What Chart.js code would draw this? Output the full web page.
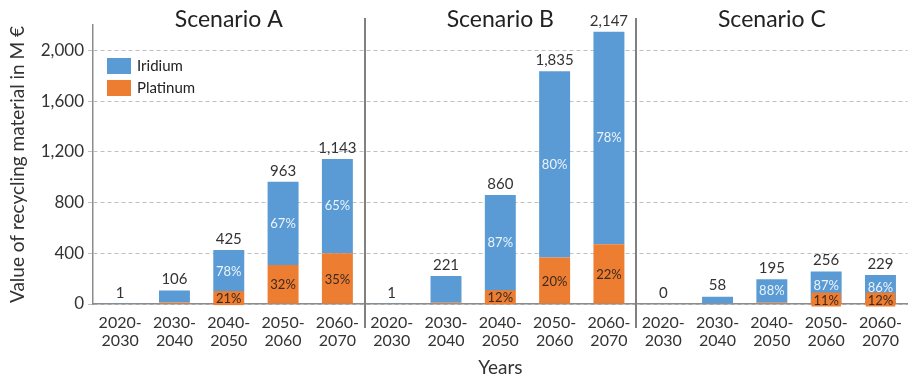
<!DOCTYPE html>
<html>
<head>
<meta charset="utf-8">
<script src="https://cdn.jsdelivr.net/npm/chart.js@4"></script>
<style>
  html, body { margin: 0; padding: 0; background: #fff; }
  canvas { display: block; }
</style>
</head>
<body>
<canvas id="recyclingChart" width="912" height="382"></canvas>
<script>
// periods per scenario
const periods = [["2020-", "2030"], ["2030-", "2040"], ["2040-", "2050"], ["2050-", "2060"], ["2060-", "2070"]];
const scenarios = ["Scenario A", "Scenario B", "Scenario C"];

// values in M € (A, B, C)
const iridium  = [1, 94, 336, 655, 743,   1, 211, 757, 1468, 1675,   0, 56, 185, 228, 202];
const platinum = [0, 12,  89, 308, 400,   0,  10, 103,  367,  472,   0,  2,  10,  28,  27];

// shares written in the bars (%)
const iridiumShare  = [null, null, 78, 67, 65,   null, null, 87, 80, 78,   null, null, 88, 87, 86];
const platinumShare = [null, null, 21, 32, 35,   null, null, 12, 20, 22,   null, null, null, 11, 12];

const yTicks = { min: 0, max: 2200, step: 400 };

const FONT = 'Lato, "Liberation Sans", sans-serif';
const BLUE = '#5B9BD5';
const ORANGE = '#ED7D31';

let labels = [];
scenarios.forEach(() => periods.forEach(p => labels.push(p)));

const fmt = v => Math.round(v).toLocaleString('en-US');

const decor = {
  id: 'decor',
  afterDatasetsDraw(chart) {
    const ctx = chart.ctx;
    const metaPt = chart.getDatasetMeta(0);
    const metaIr = chart.getDatasetMeta(1);
    ctx.save();
    ctx.textAlign = 'center';
    ctx.textBaseline = 'middle';

    // shares inside the segments
    ctx.font = '13px ' + FONT;
    for (let i = 0; i < labels.length; i++) {
      if (iridiumShare[i] != null) {
        const b = metaIr.data[i];
        ctx.fillStyle = 'rgba(255,255,255,0.88)';
        ctx.fillText(iridiumShare[i] + '%', b.x, (b.y + b.base) / 2);
      }
      if (platinumShare[i] != null) {
        const b = metaPt.data[i];
        const t = platinumShare[i] + '%';
        const cy = Math.min((b.y + b.base) / 2, b.base - 4);
        const w = ctx.measureText(t).width + 4;
        ctx.fillStyle = ORANGE;
        ctx.fillRect(b.x - w / 2, cy - 7, w, 14);
        ctx.fillStyle = '#3a2a20';
        ctx.fillText(t, b.x, cy + 1);
      }
    }

    // totals on top of the stacks
    ctx.font = '15px ' + FONT;
    ctx.fillStyle = '#333';
    const y = chart.scales.y;
    for (let i = 0; i < labels.length; i++) {
      const total = iridium[i] + platinum[i];
      ctx.fillText(fmt(total), metaIr.data[i].x, y.getPixelForValue(total) - 11);
    }
    ctx.restore();
  },
  afterDraw(chart) {
    const ctx = chart.ctx;
    const x = chart.scales.x;
    ctx.save();

    // scenario separators
    ctx.strokeStyle = '#808080';
    ctx.lineWidth = 2;
    [5, 10].forEach(k => {
      const px = Math.round((x.getPixelForValue(k - 1) + x.getPixelForValue(k)) / 2);
      ctx.beginPath();
      ctx.moveTo(px, 18);
      ctx.lineTo(px, 328);
      ctx.stroke();
    });

    // scenario titles
    ctx.font = '23px ' + FONT;
    ctx.fillStyle = '#222';
    ctx.textAlign = 'center';
    ctx.textBaseline = 'middle';
    scenarios.forEach((s, k) => {
      ctx.fillText(s, x.getPixelForValue(k * 5 + 2), 20);
    });

    // legend
    const items = [['Iridium', BLUE], ['Platinum', ORANGE]];
    ctx.font = '15px ' + FONT;
    ctx.textAlign = 'left';
    items.forEach((it, k) => {
      const top = 58 + k * 22;
      ctx.fillStyle = it[1];
      ctx.fillRect(107, top, 24, 16);
      ctx.fillStyle = '#222';
      ctx.fillText(it[0], 137, top + 8);
    });
    ctx.restore();
  }
};

new Chart(document.getElementById('recyclingChart'), {
  type: 'bar',
  data: {
    labels: labels,
    datasets: [
      { label: 'Platinum', data: platinum, backgroundColor: ORANGE, stack: 's' },
      { label: 'Iridium', data: iridium, backgroundColor: BLUE, stack: 's' }
    ]
  },
  options: {
    responsive: false,
    devicePixelRatio: 1,
    animation: false,
    layout: { padding: { top: 25, right: 0, left: 0, bottom: 0 } },
    datasets: { bar: { categoryPercentage: 1, barPercentage: 0.57 } },
    plugins: { legend: { display: false }, tooltip: { enabled: false } },
    scales: {
      x: {
        stacked: true,
        grid: { display: false, drawTicks: false },
        border: { display: true, color: '#8c8c8c', width: 1.5 },
        ticks: {
          color: '#333', font: { family: FONT, size: 16, lineHeight: 1.1 },
          padding: 10, maxRotation: 0, autoSkip: false
        },
        title: {
          display: true, text: 'Years', color: '#333',
          font: { family: FONT, size: 19 }, padding: { top: 0, bottom: 3 }
        },
        afterFit: s => { s.height = 78; }
      },
      y: {
        stacked: true,
        min: yTicks.min,
        max: yTicks.max,
        grid: { color: '#c0c0c0', tickLength: 5, tickBorderDash: [] },
        border: { display: true, color: '#8c8c8c', width: 1.5, dash: [4, 3] },
        ticks: {
          stepSize: yTicks.step, includeBounds: false, padding: 4,
          color: '#333', font: { family: FONT, size: 17 },
          callback: v => fmt(v)
        },
        title: {
          display: true, text: 'Value of recycling material in M €', color: '#333',
          font: { family: FONT, size: 19 }, padding: { top: 6, bottom: 0 }
        },
        afterFit: s => { s.width = 93; }
      }
    }
  },
  plugins: [decor]
});
</script>
</body>
</html>
